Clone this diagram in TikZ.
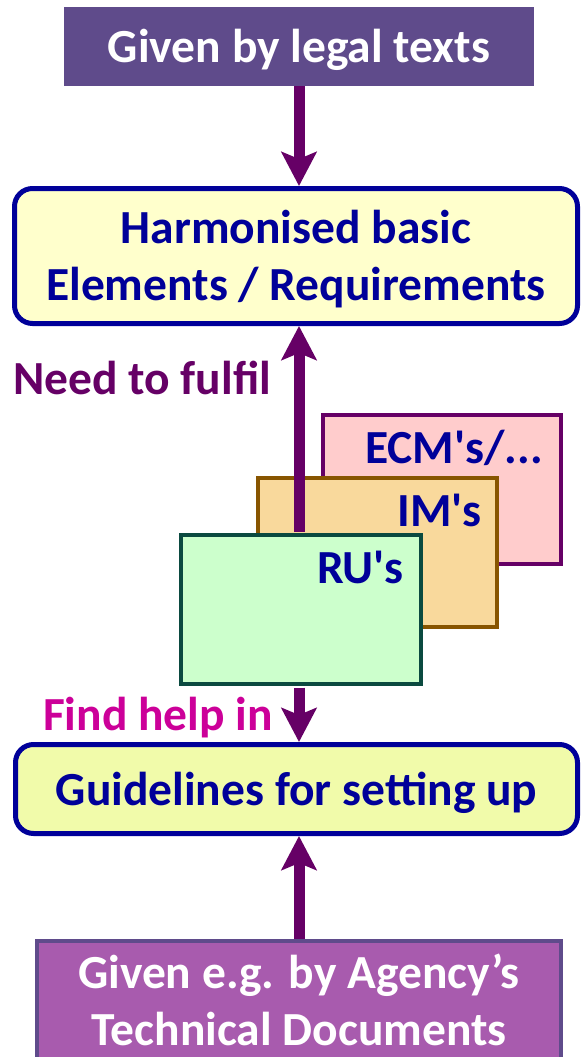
\documentclass[tikz,border=0pt]{standalone}
\usepackage{fontspec}
\setmainfont{Carlito}
\usetikzlibrary{arrows.meta}

\definecolor{sourcefill}{HTML}{5F4B8B}
\definecolor{docfill}{HTML}{A85BAE}
\definecolor{navy}{HTML}{000099}
\definecolor{reqfill}{HTML}{FFFFCC}
\definecolor{guidefill}{HTML}{F1FBAA}
\definecolor{plum}{HTML}{660066}
\definecolor{magenta}{HTML}{CC0099}
\definecolor{ecmfill}{HTML}{FFCCCC}
\definecolor{imfill}{HTML}{F9D99C}
\definecolor{imline}{HTML}{885500}
\definecolor{rufill}{HTML}{CCFFCC}
\definecolor{ruline}{HTML}{0B4A40}

\tikzset{
  txt/.style={font=\bfseries\fontsize{#1}{57}\selectfont},
  givenbox/.style={fill=sourcefill, text=white, inner sep=0pt, align=center},
  mainbox/.style={draw=navy, line width=5pt, rounded corners=18pt, text=navy,
                  inner sep=0pt, align=center},
  actorbox/.style={line width=4pt, inner sep=0pt, minimum width=#1, minimum height=149pt},
  actorlabel/.style={txt=47.5, text=navy, inner sep=0pt, anchor=base east},
  conn/.style={draw=plum, line width=11pt,
               -{Stealth[length=34pt, width=35pt, inset=7pt]}},
  caption/.style={txt=47.5, inner sep=0pt},
}

\begin{document}
\begin{tikzpicture}[x=1pt, y=-1pt]
  \clip (0,0) rectangle (581,1057);
  \fill[white] (0,0) rectangle (581,1057);

  % source and target boxes of the main chain
  \node[givenbox, txt=47.5, minimum width=470pt, minimum height=79pt,
        text height=33pt, text depth=0pt] (legal) at (299,46.5) {Given by legal texts};
  \node[mainbox, fill=reqfill, txt=47.5, minimum width=563pt, minimum height=135pt,
        text height=88pt, text depth=0pt] (req) at (296,256)
        {Harmonised basic\\Elements / Requirements};
  \node[mainbox, fill=guidefill, txt=47.5, minimum width=562pt, minimum height=89pt,
        text height=32pt, text depth=0pt] (guide) at (296.5,789) {Guidelines for setting up};
  \node[givenbox, draw=sourcefill, line width=4pt, fill=docfill, txt=47.5,
        minimum width=524pt, minimum height=140pt, anchor=north,
        text height=68pt, text depth=0pt] (docs) at (299,939)
        {Given e.g. by Agency’s\\Technical Documents};

  % stacked actor cards
  \node[actorbox=238pt, draw=plum, fill=ecmfill] (ecm) at (442,489) {};
  \node[actorlabel] (ecmlbl) at (543,463) {ECM\textquotesingle s/...};
  \node[actorbox=239pt, draw=imline, fill=imfill] (im) at (377.5,552.5) {};
  \node[actorlabel] (imlbl) at (482,526) {IM\textquotesingle s};
  \draw[conn, shorten <=2pt] (299,534) -- (req.south -| legal.south);
  \node[actorbox=240pt, draw=ruline, fill=rufill] (ru) at (301,609) {};
  \node[actorlabel] (rulbl) at (404,583) {RU\textquotesingle s};

  % remaining connectors
  \draw[conn] (legal.south) -- (req.north -| legal.south);
  \draw[conn, shorten <=2pt] (ru.south -| legal.south) -- (guide.north -| legal.south);
  \draw[conn] (docs.north -| legal.south) -- (guide.south -| legal.south);

  % connector captions
  \node[caption, text=plum, anchor=base west] (need) at (13,394) {Need to fulfil};
  \node[caption, text=magenta, anchor=base east] (help) at (273,730) {Find help in};
\end{tikzpicture}
\end{document}
